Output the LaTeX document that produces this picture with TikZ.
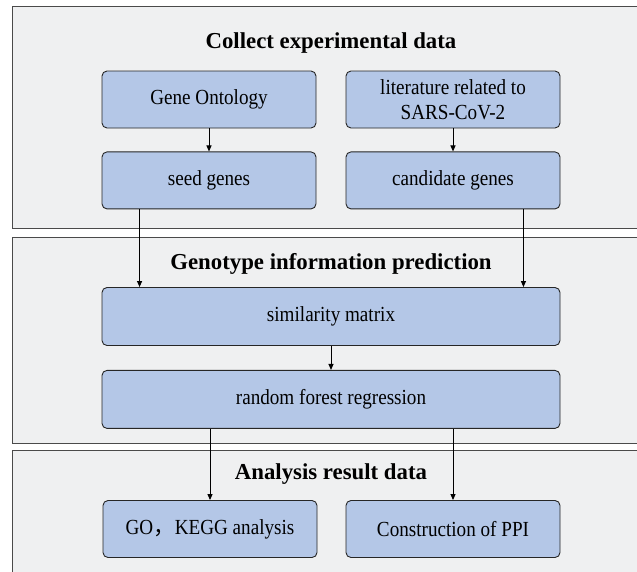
\documentclass[tikz,border=0pt]{standalone}
\usepackage{fontspec}
\setmainfont{Liberation Serif}
\newfontfamily\boxfont[FakeStretch=0.89]{Liberation Serif}
\newfontfamily\cjk{Noto Sans CJK SC}
\usepackage{xcolor}
\usetikzlibrary{positioning,arrows.meta}

\definecolor{boxblue}{HTML}{B4C7E7}
\definecolor{panelgray}{HTML}{EFF0F1}
\definecolor{edgegray}{HTML}{4A4A4A}

\begin{document}
\begin{tikzpicture}[
    x=1pt, y=1pt,
    node distance=23pt,
    stage/.style={rectangle, draw=black!85, fill=boxblue, line width=0.9pt, rounded corners=5pt, align=center, font=\boxfont\fontsize{21.5}{25}\selectfont, inner sep=0pt},
    small/.style={stage, minimum width=214pt, minimum height=57pt},
    wide/.style={stage, minimum width=458pt, minimum height=58pt},
    panel/.style={draw=edgegray, fill=panelgray, line width=0.9pt},
    heading/.style={font=\fontsize{22.8}{27}\selectfont\bfseries},
    arrow/.style={-{Triangle[length=6pt,width=5pt]}, line width=1pt}
]
\useasboundingbox (0,0) rectangle (637,-571);
\fill[white] (0,0) rectangle (637,-571);

% three panels
\draw[panel] (12,-6) rectangle (660,-228);
\draw[panel] (12,-237) rectangle (660,-443);
\draw[panel] (12,-450) rectangle (660,-600);

\node[heading] (title1) at (331,-43) {Collect experimental data};
\node[heading] (title2) at (331,-264) {Genotype information prediction};
\node[heading] (title3) at (331,-474) {Analysis result data};

% collect
\node[small] (onto) at (209,-99.5) {Gene Ontology};
\node[small] (lit) at (453,-99.5) {literature related to\\SARS-CoV-2};
\node[small, below=23pt of onto] (seed) {seed genes};
\node[small, below=23pt of lit] (cand) {candidate genes};

% prediction
\node[wide] (sim) at (331,-316.5) {similarity matrix};
\node[wide, below=24pt of sim] (rf) {random forest regression};

% results
\node[small] (go) at (210,-529) {GO{\cjk ，}KEGG analysis};
\node[small] (ppi) at (453,-529) {Construction of PPI};

\draw[arrow] (onto) -- (seed);
\draw[arrow] (lit) -- (cand);
\draw[arrow] ([xshift=38pt]seed.south west) -- ([xshift=38pt]seed.south west |- sim.north);
\draw[arrow] ([xshift=-37pt]cand.south east) -- ([xshift=-37pt]cand.south east |- sim.north);
\draw[arrow] (sim) -- (rf);
\draw[arrow] (go.north |- rf.south) -- (go.north);
\draw[arrow] (ppi.north |- rf.south) -- (ppi.north);
\end{tikzpicture}
\end{document}
